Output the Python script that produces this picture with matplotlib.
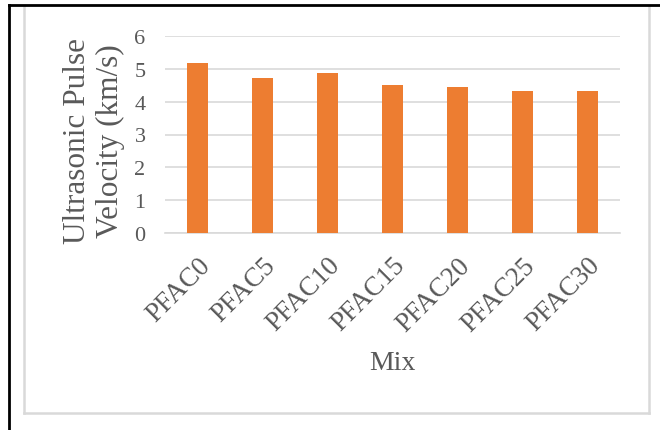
import matplotlib.pyplot as plt
from matplotlib.lines import Line2D

mixes = ["PFAC0", "PFAC5", "PFAC10", "PFAC15", "PFAC20", "PFAC25", "PFAC30"]
upv = [5.18, 4.71, 4.88, 4.50, 4.46, 4.33, 4.33]
y_ticks = [0, 1, 2, 3, 4, 5, 6]

W, H = 660, 431
plt.rcParams['font.family'] = ['Liberation Serif', 'DejaVu Serif']
text_color = '#595959'
grid_color = '#d9d9d9'

fig = plt.figure(figsize=(W / 100, H / 100), dpi=100)
ax = fig.add_axes([165 / W, 1 - 234 / H, 455 / W, 197 / H])

x = range(len(mixes))
ax.bar(x, upv, width=0.31, color='#ED7D31', zorder=3)

ax.set_xlim(-0.5, len(mixes) - 0.5)
ax.set_ylim(0, 6)
ax.set_yticks(y_ticks)
ax.set_yticklabels([str(t) for t in y_ticks], fontsize=16, color=text_color)
ax.set_xticks(list(x))
ax.set_xticklabels(mixes, rotation=45, ha='right', va='top', rotation_mode='anchor',
                   fontsize=19.5, color=text_color)
ax.tick_params(axis='both', length=0)
ax.tick_params(axis='y', pad=14)
ax.tick_params(axis='x', pad=14)

ax.grid(axis='y', color=grid_color, linewidth=1.2, zorder=0)
for side in ['top', 'right', 'left']:
    ax.spines[side].set_visible(False)
ax.spines['bottom'].set_color(grid_color)
ax.spines['bottom'].set_linewidth(1.2)

ax.set_ylabel("Ultrasonic Pulse\nVelocity (km/s)", fontsize=22.5, color=text_color,
              linespacing=1.2)
ax.yaxis.set_label_coords(-40 / 455, 0.47)
ax.set_xlabel("Mix", fontsize=20, color=text_color, labelpad=10)


def px_line(x0, y0, x1, y1, color, lw):
    fig.add_artist(Line2D([x0 / W, x1 / W], [1 - y0 / H, 1 - y1 / H],
                          color=color, linewidth=lw, transform=fig.transFigure))


# light chart frame
px_line(24, 7, 24, 413.5, grid_color, 1.8)
px_line(24, 413.5, 648.5, 413.5, grid_color, 1.8)
px_line(648.5, 7, 648.5, 413.5, grid_color, 1.8)
# outer black border
px_line(8.5, 6, W, 6, 'black', 2.0)
px_line(8.5, 6, 8.5, H, 'black', 2.0)

fig.savefig("out.png", dpi=100, facecolor='white')
